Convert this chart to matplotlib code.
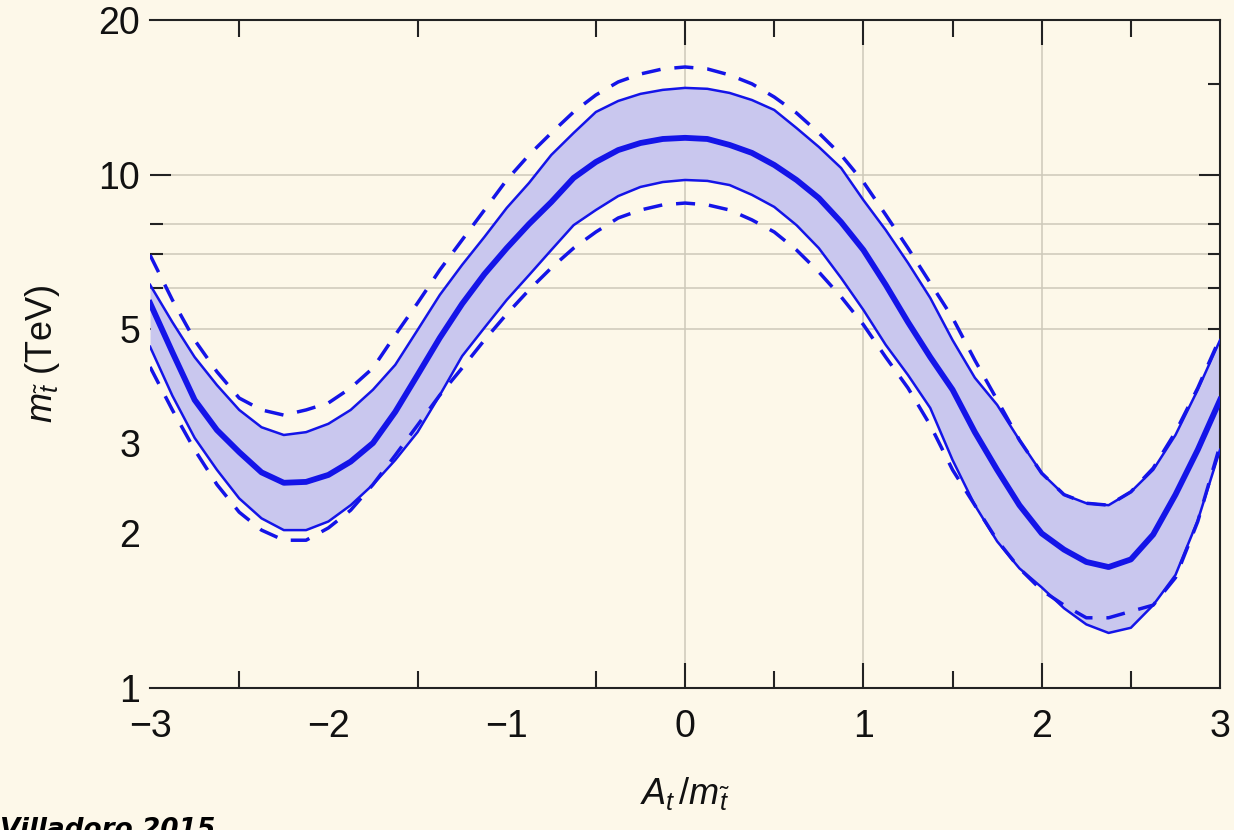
import numpy as np
import matplotlib
matplotlib.use('Agg')
import matplotlib.pyplot as plt
from matplotlib.ticker import FixedLocator, NullFormatter

plt.rcParams['font.family'] = ['Liberation Sans', 'DejaVu Sans']
plt.rcParams['mathtext.fontset'] = 'custom'
plt.rcParams['mathtext.rm'] = 'Liberation Sans'
plt.rcParams['mathtext.it'] = 'Liberation Sans:italic'

# A_t / m_stop
x_vals = [-3.0, -2.875, -2.75, -2.625, -2.5, -2.375, -2.25, -2.125, -2.0, -1.875,
          -1.75, -1.625, -1.5, -1.375, -1.25, -1.125, -1.0, -0.875, -0.75, -0.625,
          -0.5, -0.375, -0.25, -0.125, 0.0, 0.125, 0.25, 0.375, 0.5, 0.625,
          0.75, 0.875, 1.0, 1.125, 1.25, 1.375, 1.5, 1.625, 1.75, 1.875,
          2.0, 2.125, 2.25, 2.375, 2.5, 2.625, 2.75, 2.875, 3.0]
# stop mass (TeV), central value
m_central = [5.62, 4.51, 3.64, 3.18, 2.88, 2.63, 2.51, 2.52, 2.60, 2.76,
             3.00, 3.45, 4.07, 4.81, 5.60, 6.40, 7.19, 8.01, 8.84, 9.85,
             10.58, 11.16, 11.52, 11.73, 11.79, 11.73, 11.42, 11.02, 10.44, 9.76,
             9.00, 8.08, 7.13, 6.10, 5.16, 4.41, 3.81, 3.15, 2.66, 2.27,
             2.00, 1.86, 1.76, 1.72, 1.78, 1.99, 2.38, 2.91, 3.64]
# shaded band, upper / lower edge
m_band_hi = [6.10, 5.16, 4.41, 3.89, 3.48, 3.22, 3.11, 3.15, 3.27, 3.48,
             3.81, 4.26, 4.98, 5.83, 6.67, 7.56, 8.61, 9.63, 10.92, 12.05,
             13.24, 13.91, 14.36, 14.62, 14.75, 14.69, 14.42, 13.97, 13.36, 12.32,
             11.32, 10.30, 8.92, 7.80, 6.73, 5.75, 4.76, 4.02, 3.56, 3.04,
             2.62, 2.38, 2.29, 2.27, 2.41, 2.66, 3.11, 3.81, 4.76]
m_band_lo = [4.62, 3.71, 3.07, 2.66, 2.34, 2.14, 2.03, 2.03, 2.11, 2.27,
             2.49, 2.78, 3.15, 3.72, 4.43, 5.03, 5.70, 6.37, 7.13, 7.97,
             8.53, 9.08, 9.46, 9.67, 9.76, 9.72, 9.54, 9.13, 8.65, 7.97,
             7.19, 6.29, 5.45, 4.66, 4.07, 3.51, 2.78, 2.27, 1.93, 1.71,
             1.57, 1.43, 1.33, 1.28, 1.31, 1.45, 1.66, 2.12, 2.91]
# dashed curves
m_dash_hi = [6.97, 5.70, 4.76, 4.13, 3.67, 3.48, 3.40, 3.48, 3.59, 3.84,
             4.20, 4.87, 5.62, 6.52, 7.46, 8.53, 9.76, 10.92, 12.05, 13.24,
             14.29, 15.15, 15.70, 16.06, 16.20, 16.06, 15.63, 15.02, 14.16, 13.18,
             12.05, 10.92, 9.67, 8.35, 7.19, 6.15, 5.26, 4.35, 3.64, 3.04,
             2.62, 2.38, 2.29, 2.27, 2.41, 2.68, 3.15, 3.84, 4.81]
m_dash_lo = [4.22, 3.48, 2.91, 2.49, 2.20, 2.03, 1.94, 1.94, 2.05, 2.22,
             2.49, 2.84, 3.25, 3.72, 4.20, 4.76, 5.35, 5.96, 6.58, 7.19,
             7.73, 8.23, 8.53, 8.73, 8.80, 8.73, 8.53, 8.16, 7.73, 7.13,
             6.46, 5.78, 5.10, 4.41, 3.84, 3.25, 2.66, 2.27, 1.94, 1.71,
             1.55, 1.45, 1.37, 1.37, 1.41, 1.45, 1.64, 2.11, 2.97]

x_ticks = [-3, -2, -1, 0, 1, 2, 3]
x_minor = [-2.5, -1.5, -0.5, 0.5, 1.5, 2.5]
y_ticks = [1, 2, 3, 5, 10, 20]
y_minor = [5, 6, 7, 8, 15]
x_grid = [0, 1, 2]
y_grid = [5, 6, 7, 8, 10]

bg = '#fdf8e9'
blue = '#1414e8'
dark = '#222222'

fig = plt.figure(figsize=(12.34, 8.30), dpi=100, facecolor=bg)
ax = fig.add_axes([0.1216, 0.1711, 0.8671, 0.8048], facecolor=bg)

for gx in x_grid:
    ax.axvline(gx, color='#cdc9ba', lw=1.1, zorder=1)
for gy in y_grid:
    ax.axhline(gy, color='#cdc9ba', lw=1.1, zorder=1)

ax.fill_between(x_vals, m_band_lo, m_band_hi, color='#c9c7ee', lw=0, zorder=2)
ax.plot(x_vals, m_band_hi, color=blue, lw=1.8, zorder=3)
ax.plot(x_vals, m_band_lo, color=blue, lw=1.8, zorder=3)
ax.plot(x_vals, m_central, color=blue, lw=4.2, zorder=4, solid_joinstyle='round')
ax.plot(x_vals, m_dash_hi, color=blue, lw=2.5, dashes=(5.5, 4.0), zorder=3)
ax.plot(x_vals, m_dash_lo, color=blue, lw=2.5, dashes=(5.5, 4.0), zorder=3)

ax.set_yscale('log')
ax.set_xlim(-3, 3)
ax.set_ylim(1, 20)

ax.xaxis.set_major_locator(FixedLocator(x_ticks))
ax.xaxis.set_minor_locator(FixedLocator(x_minor))
ax.set_xticklabels([f'{v:d}'.replace('-', '\u2212') for v in x_ticks])
ax.yaxis.set_major_locator(FixedLocator(y_ticks))
ax.yaxis.set_minor_locator(FixedLocator(y_minor))
ax.yaxis.set_minor_formatter(NullFormatter())
ax.set_yticklabels([str(v) for v in y_ticks])
ax.yaxis.remove_overlapping_locs = False

ax.tick_params(axis='both', which='both', direction='in', colors=dark, width=1.5,
               top=True, right=True, labelsize=27, labelcolor='#111111')
ax.tick_params(axis='x', which='major', length=18, pad=15)
ax.tick_params(axis='x', which='minor', length=12)
ax.tick_params(axis='y', which='major', length=15, pad=7)
ax.tick_params(axis='y', which='minor', length=9)

# only some tick marks are drawn in the original
for t, v in zip(ax.xaxis.get_major_ticks(), x_ticks):
    if v not in x_grid:
        t.tick1line.set_visible(False)
        t.tick2line.set_visible(False)
for t, v in zip(ax.yaxis.get_major_ticks(), y_ticks):
    if v != 10:
        t.tick1line.set_visible(False)
        t.tick2line.set_visible(False)
for t, v in zip(ax.yaxis.get_minor_ticks(), y_minor):
    if v == 15:
        t.tick1line.set_visible(False)

ax.spines['left'].set_visible(False)
for s in ['top', 'right', 'bottom']:
    ax.spines[s].set_color(dark)
    ax.spines[s].set_linewidth(1.5)

ax.set_xlabel(r'$A_t\,/m_{\tilde{t}}$', fontsize=26, labelpad=22, color='#111111')
ax.set_ylabel(r'$m_{\tilde{t}}$ (TeV)', fontsize=26, labelpad=26, color='#111111')

fig.text(0.0, 0.016, 'Villadoro 2015', fontsize=19, fontweight='bold', fontstyle='italic',
         family=['DejaVu Sans'], color='black', va='top', ha='left')

fig.savefig('out.png', dpi=100, facecolor=bg)
